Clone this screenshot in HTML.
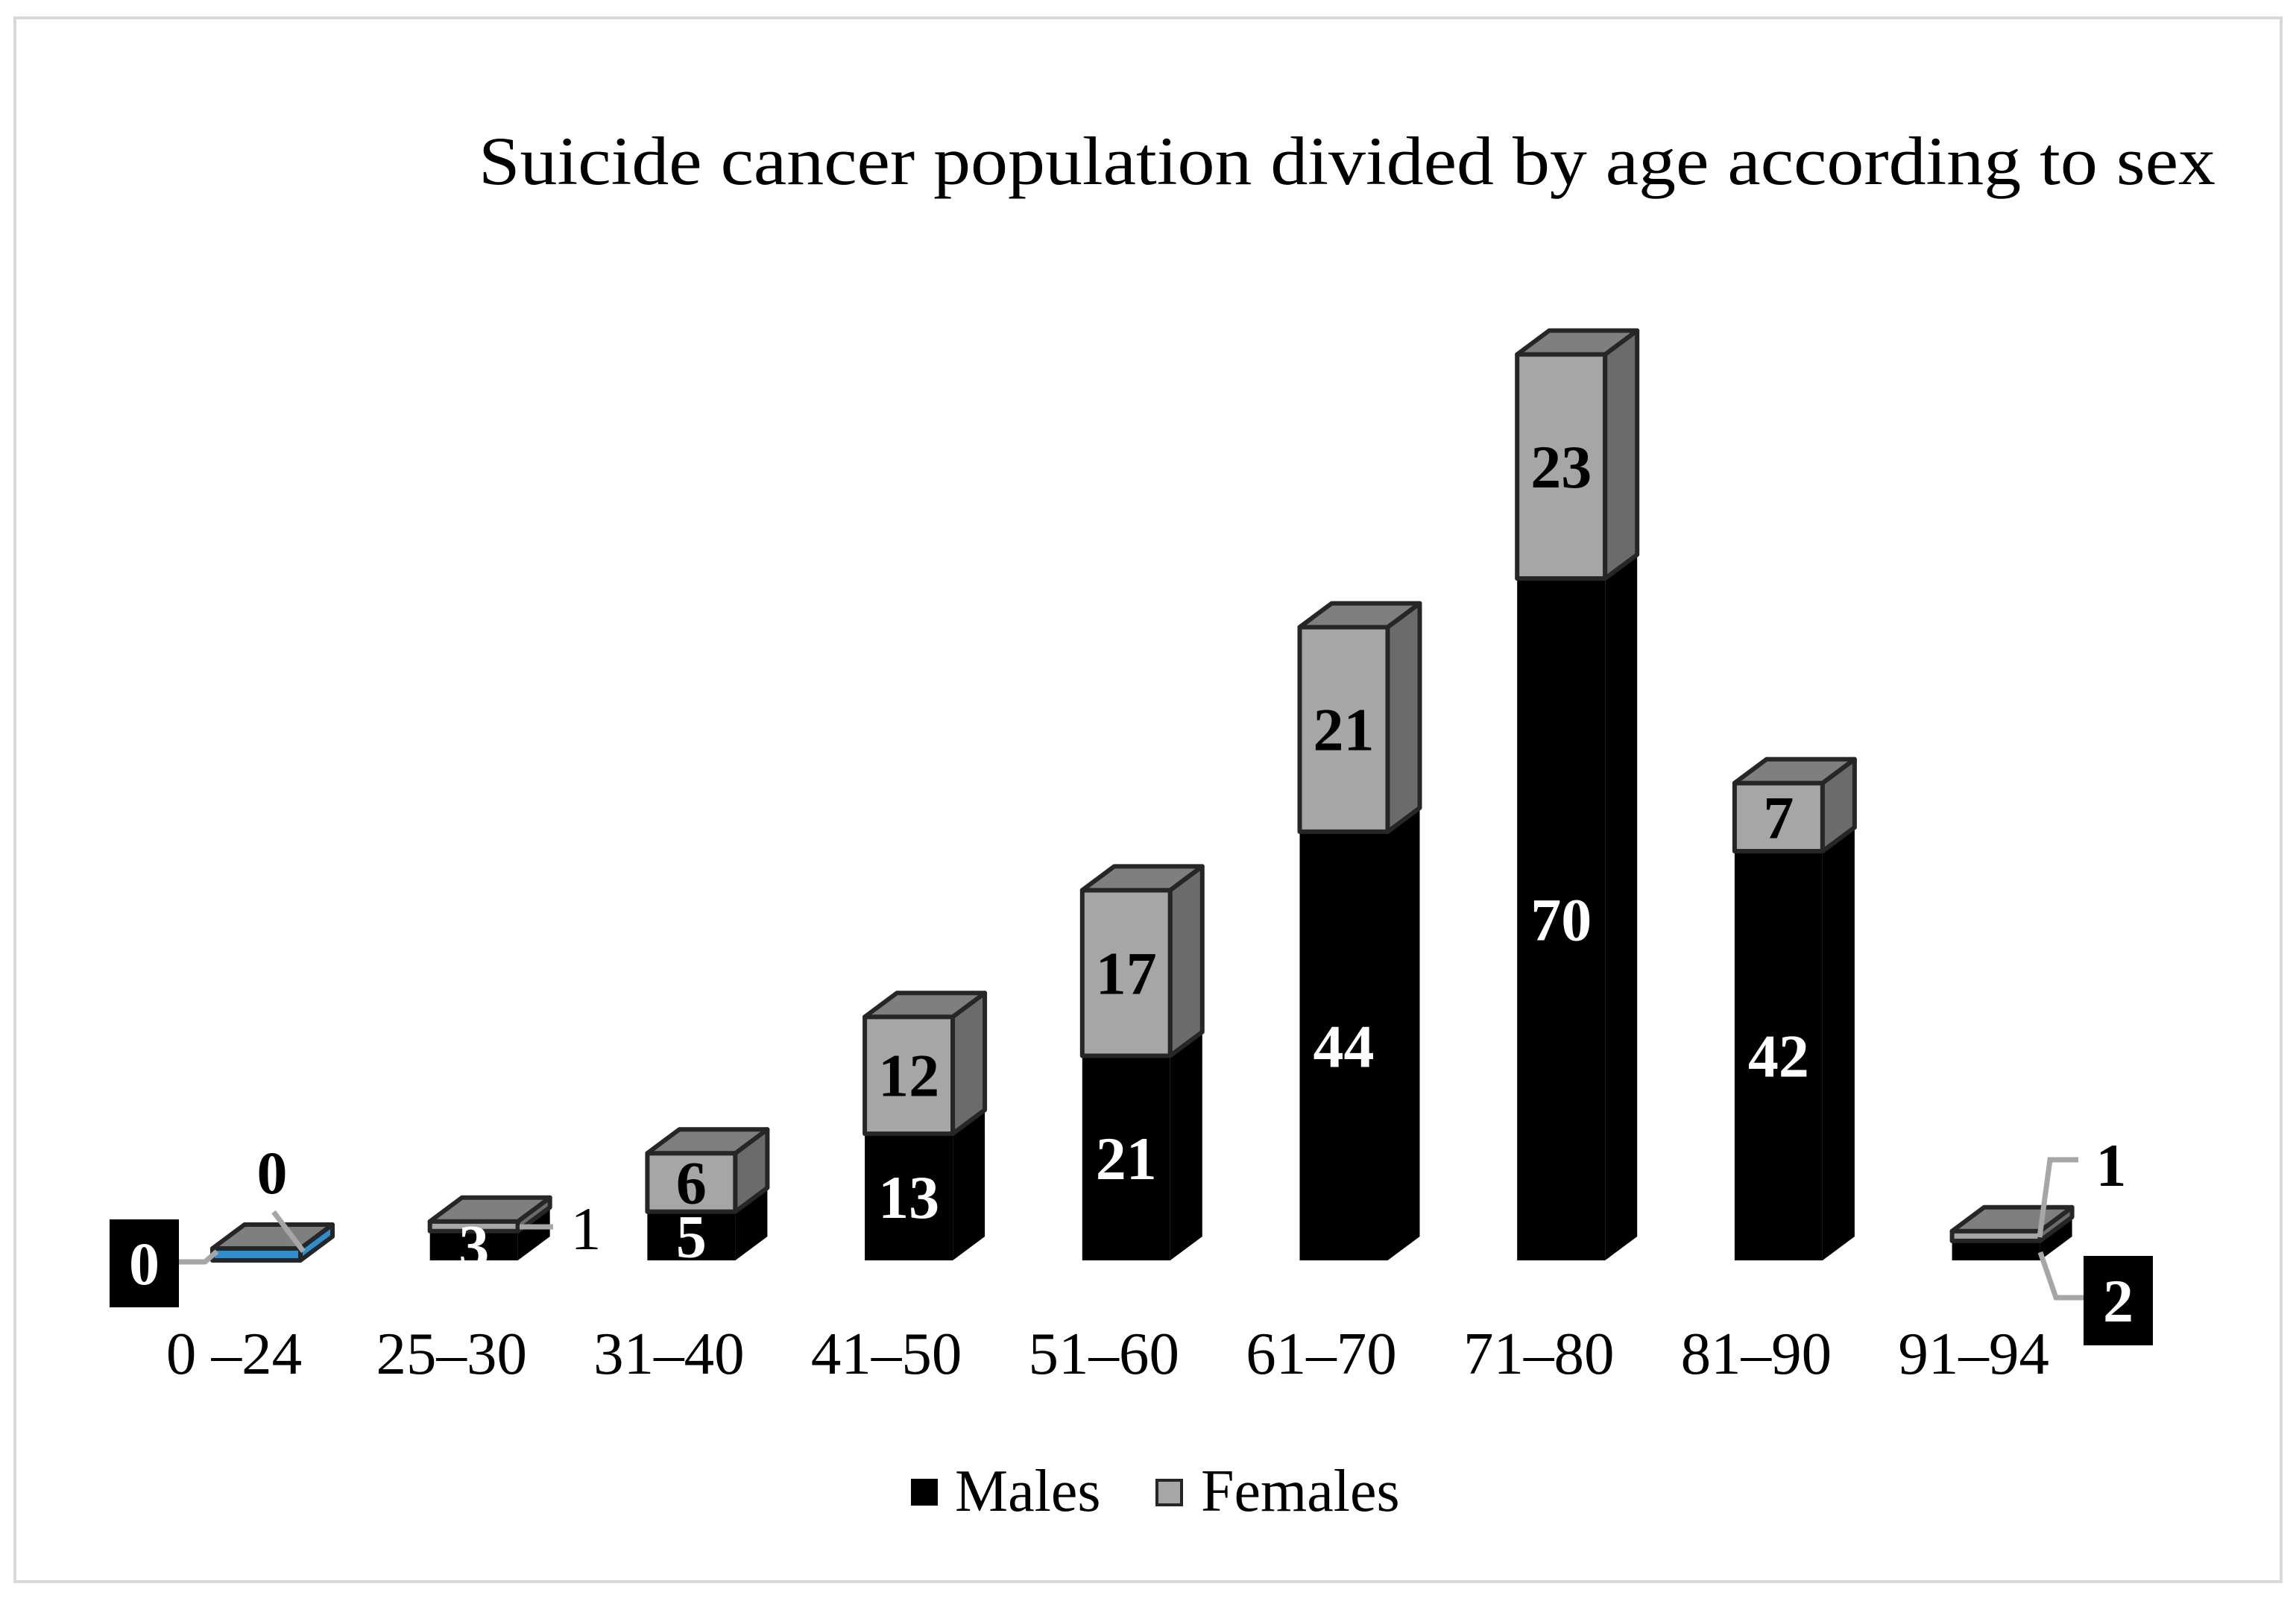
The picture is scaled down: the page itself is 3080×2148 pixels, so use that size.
<!DOCTYPE html>
<html><head><meta charset="utf-8"><style>
html,body{margin:0;padding:0;background:#fff}
svg{display:block}
text{font-family:"Liberation Serif","Times New Roman",serif}
</style></head><body>
<svg id="chart" width="3080" height="2148" viewBox="0 0 3080 2148" xmlns="http://www.w3.org/2000/svg">
<rect x="20" y="24" width="3040" height="2098" fill="#fff" stroke="#d9d9d9" stroke-width="4"/>
<text x="2972" y="247" text-anchor="end" font-size="92" textLength="2330" lengthAdjust="spacingAndGlyphs">Suicide cancer population divided by age according to sex</text>
<g id="bars"></g>
<g id="labels"></g>
<g>
<rect x="1222" y="1984" width="36" height="36" fill="#000"/>
<text x="1281" y="2027" font-size="80">Males</text>
<rect x="1552" y="1986" width="33" height="33" fill="#a6a6a6" stroke="#262626" stroke-width="4"/>
<text x="1611" y="2027" font-size="80">Females</text>
</g>
</svg>
<script>
const categories = ["0 –24","25–30","31–40","41–50","51–60","61–70","71–80","81–90","91–94"];
const males = [0,3,5,13,21,44,70,42,2];
const females = [0,1,6,12,17,21,23,7,1];

const NS = "http://www.w3.org/2000/svg";
const base = 1691, k = 13.07, w = 118, dx = 43, dy = 32;
function cx(i){ return 314 + i*291.7; }
function yv(v){ return v*k; }
const bars = document.getElementById('bars');
const labels = document.getElementById('labels');
function mk(tag, attrs, parent){
  const e = document.createElementNS(NS, tag);
  for (const a in attrs) e.setAttribute(a, attrs[a]);
  parent.appendChild(e); return e;
}
function pts(a){ return a.map(p=>p.join(',')).join(' '); }
categories.forEach((c,i)=>{
  const x = cx(i) - 29;
  const hm = males[i] === 0 ? 0 : yv(males[i]);
  const hf = females[i] === 0 ? 16 : Math.max(yv(females[i]), 10);
  const g = mk('g', {}, bars);
  
  
  if (males[i] > 0) {
    const mf = mk('rect', {x:x, y:base-hm, width:w, height:hm, fill:'#000'}, g);
    
    
    const ms = mk('polygon', {points: pts([[x+w,base],[x+w+dx,base-dy],[x+w+dx,base-hm-dy],[x+w,base-hm]]), fill:'#000'}, g);
    
    
  }
  const ft = base - hm - hf;
  const fcol = females[i]===0 ? '#2e8fd0' : '#a6a6a6';
  const ff = mk('rect', {x:x, y:ft, width:w, height:hf, fill:fcol, stroke:'#262626', 'stroke-width':6, 'stroke-linejoin':'round'}, g);
  
  
  const fs = mk('polygon', {points: pts([[x+w,ft+hf],[x+w+dx,ft+hf-dy],[x+w+dx,ft-dy],[x+w,ft]]), fill: females[i]===0 ? '#2e8fd0' : '#6b6b6b', stroke:'#262626', 'stroke-width':6, 'stroke-linejoin':'round'}, g);
  
  
  const ftp = mk('polygon', {points: pts([[x,ft],[x+dx,ft-dy],[x+w+dx,ft-dy],[x+w,ft]]), fill:'#7f7f7f', stroke:'#262626', 'stroke-width':6, 'stroke-linejoin':'round'}, g);
  
  
  const t = mk('text', {x:cx(i), y:1843, 'text-anchor':'middle', 'font-size':81}, labels);
  t.textContent = c;
  
  
  if (males[i] >= 3) {
    const ml = mk('text', {x:x+w/2, y:base-hm/2+28, 'text-anchor':'middle', 'font-size':82, 'font-weight':'bold', fill:'#fff'}, labels);
    ml.textContent = males[i];
    
    
  }
  if (females[i] >= 6) {
    const fl = mk('text', {x:x+w/2, y:ft+hf/2+28, 'text-anchor':'middle', 'font-size':82, 'font-weight':'bold', fill:'#000'}, labels);
    fl.textContent = females[i];
    
    
  }
});
function line(p, name){
  const l = mk('polyline', {points: pts(p), fill:'none', stroke:'#a6a6a6', 'stroke-width':7}, labels);
  
  
}
function boxLabel(x,y,bw,bh,val,name){
  const r = mk('rect', {x:x, y:y, width:bw, height:bh, fill:'#000'}, labels);
  
  
  const t = mk('text', {x:x+bw/2, y:y+bh/2+28, 'text-anchor':'middle', 'font-size':82, 'font-weight':'bold', fill:'#fff'}, labels);
  t.textContent = val;
  
  
}
function plainLabel(x,y,val,name,bold){
  const t = mk('text', {x:x, y:y, 'text-anchor':'middle', 'font-size':82, 'font-weight':bold?'bold':'normal', fill:'#000'}, labels);
  t.textContent = val;
  
  
}
line([[240,1693],[275,1693],[291,1679]], 'leader-males-0');
boxLabel(147,1636,93,118,males[0],'value-males-0');
line([[367,1626],[407,1679]], 'leader-females-0');
plainLabel(365,1601,females[0],'value-females-0',true);
line([[697,1646],[742,1646]], 'leader-females-1');
plainLabel(786,1676,females[1],'value-females-1',false);
line([[2788,1556],[2750,1556],[2736,1660]], 'leader-females-8');
plainLabel(2832,1591,females[8],'value-females-8',true);
line([[2737,1680],[2758,1741],[2795,1741]], 'leader-males-8');
boxLabel(2795,1685,93,120,males[8],'value-males-8');
</script>
</body></html>
